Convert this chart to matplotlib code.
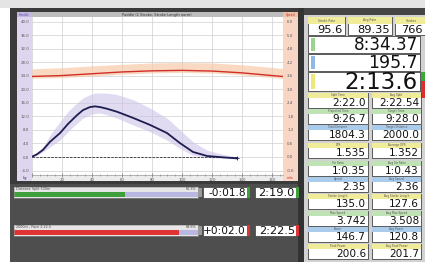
import matplotlib
matplotlib.use("Agg")
import matplotlib.pyplot as plt
from matplotlib.patches import Rectangle
import numpy as np

W, H = 425, 262

# handle force over the stroke (kg): mean curve and spread band
stroke_pos = [0, 3.3, 7.3, 12, 18.7, 24, 30, 34, 38.7, 42, 45.3, 50, 56.7, 67.3, 78.7, 90, 98.7,
              107.3, 116.7, 127.3, 136.7]
force_mean = [0.1, 0.8, 2.1, 4.5, 7.1, 9.8, 12.4, 13.9, 14.8, 15.0, 14.8, 14.3, 13.4, 11.6, 9.5,
              7.1, 4.1, 1.5, 0.3, -0.1, -0.4]
force_hi = [0.3, 1.4, 3.0, 6.5, 10.5, 13.5, 16.0, 17.5, 18.5, 18.9, 19.0, 18.9, 18.5, 17.0, 14.5,
            11.5, 8.0, 4.5, 2.0, 0.8, 0.0]
force_lo = [0.0, 0.5, 1.5, 3.0, 5.0, 7.5, 10.0, 11.5, 12.5, 12.9, 13.0, 12.5, 11.5, 9.5, 7.5,
            5.0, 2.5, 0.5, -0.2, -0.4, -0.6]

# boat speed (m/s) over the stroke
speed_pos = [0, 20, 40, 60, 80, 100, 120, 140, 160, 167]
speed_mean = [3.58, 3.62, 3.70, 3.78, 3.83, 3.85, 3.82, 3.74, 3.62, 3.58]
speed_hi = [3.92, 3.97, 4.05, 4.12, 4.18, 4.20, 4.18, 4.10, 3.98, 3.93]
speed_lo = [3.50, 3.53, 3.60, 3.68, 3.74, 3.76, 3.73, 3.65, 3.53, 3.49]

force_ticks = np.arange(-4, 41, 4)
speed_ticks = np.round(np.arange(-0.6, 6.01, 0.6), 1)
x_ticks = np.arange(0, 161, 20)

# progress bars below the chart
bar_labels = ["Distance Split 500m", "2000m - Pace 2:22.5"]
bar_pct = [60.3, 89.6]
bar_colors = ["#3f9f3a", "#e03434"]
bar_delta = ["-0:01.8", "+0:02.0"]
bar_time = ["2:19.0", "2:22.5"]

# right hand number panel
top_labels = ["Stroke Rate", "Avg Rate", "Strokes"]
top_values = ["95.6", "89.35", "766"]
big_values = ["8:34.37", "195.7", "2:13.6"]
big_tabs = ["#9ad48e", "#8fb8e6", "#eee77a"]
pair_labels = [("Split Time", "Avg Split"), ("Projected Time", "Target Time"),
               ("Total Distance", "Target Distance"), ("DPS", "Average DPS"),
               ("Str Ratio", "Avg Str Ratio"), ("Speed", "Avg Speed"),
               ("Stroke Length", "Avg Stroke Length"), ("Max Speed", "Avg Max Speed"),
               ("Power", "Avg Power"), ("Peak Power", "Avg Peak Power")]
pair_left = ["2:22.0", "9:26.7", "1804.3", "1.535", "1:0.35", "2.35", "135.0", "3.742", "146.7", "200.6"]
pair_right = ["2:22.54", "9:28.0", "2000.0", "1.352", "1:0.43", "2.36", "127.6", "3.508", "120.8", "201.7"]
pair_colors = ["#f0ec9a", "#bfe3b5", "#aacbea"] * 3 + ["#f0ec9a"]
pair_tops = [93, 109, 125, 143, 161, 177, 194, 211, 227, 244]

fig = plt.figure(figsize=(W / 100, H / 100), dpi=100)
fig.patch.set_facecolor("white")
bg = fig.add_axes([0, 0, 1, 1])
bg.set_xlim(0, W)
bg.set_ylim(H, 0)
bg.axis("off")


def rect(x0, y0, x1, y1, color, ec="none", lw=0.0):
    bg.add_patch(Rectangle((x0, y0), x1 - x0, y1 - y0, facecolor=color, edgecolor=ec, lw=lw))


def ax_at(x0, y0, x1, y1):
    return fig.add_axes([x0 / W, 1 - y1 / H, (x1 - x0) / W, (y1 - y0) / H])


# ---- panel frames ----
rect(0, 0, W, 8, "#e4e4e4")
rect(10, 8, 303, 184, "#3b3b3b")
rect(10, 184, 300, H, "#4e4e4e")
rect(298, 8, 304, H, "#333333")
rect(304, 8, W, H, "#d2d2d2")
rect(304, 8, W, 15, "#444444")
rect(17, 12, 32, 181, "#ddd6ee")
rect(17, 12, 32, 17, "#c3b7e0")
rect(283, 12, 298, 181, "#f7d6c6")
rect(283, 12, 298, 17, "#efbfa8")
rect(32, 12, 283, 17, "#bdbdbd")
rect(32, 175, 283, 181, "#ececec")
bg.text(157, 14.6, "Paddle (1 Stroke: Stroke Length norm)", fontsize=2.6, color="#333",
        ha="center", va="center")
bg.text(24.5, 14.6, "Handle", fontsize=2.2, color="#6a4fa8", ha="center", va="center")
bg.text(290.5, 14.6, "Speed", fontsize=2.2, color="#c03020", ha="center", va="center")
bg.text(24.5, 178, "kg", fontsize=2.6, color="#333", ha="center", va="center")
bg.text(290.5, 178, "m/s", fontsize=2.6, color="#c03020", ha="center", va="center")

# ---- stroke chart ----
ax = ax_at(32, 17, 283, 175)
ax.set_facecolor("white")
ax.set_xlim(0, 167.3)
ax.set_ylim(-5.333, 41.48)
ax.set_xticks(x_ticks)
ax.set_xticklabels([""] + [str(v) for v in x_ticks[1:]])
ax.set_xticks(np.arange(0, 167, 5), minor=True)
ax.set_yticks(force_ticks)
ax.set_yticklabels([f"{v:.1f}" for v in force_ticks])
ax.grid(True, color="#cfcfcf", lw=0.5)
ax.set_axisbelow(True)
ax.tick_params(axis="y", labelsize=2.8, labelcolor="#555", length=0, pad=2)
ax.tick_params(axis="x", which="major", labelsize=2.8, labelcolor="#555",
               direction="inout", length=2.5, width=0.4, color="#555", pad=1.2)
ax.tick_params(axis="x", which="minor", direction="inout", length=1.5, width=0.4, color="#777")
for s in ax.spines.values():
    s.set_visible(False)
ax.spines["bottom"].set_visible(True)
ax.spines["bottom"].set_color("#888")
ax.spines["bottom"].set_linewidth(0.4)

ax.fill_between(stroke_pos, force_lo, force_hi, color="#cdc3e8", alpha=0.6, lw=0)
ax.hlines(0, stroke_pos[0], stroke_pos[-1], color="#333", lw=0.6, ls=(0, (3, 1.5)))
ax.plot(stroke_pos, force_mean, color="#1d1d50", lw=1.3, solid_joinstyle="round")
ax.plot(stroke_pos[-1], force_mean[-1], "+", color="#1d1d50", ms=3, mew=0.6)

ax2 = ax.twinx()
ax2.set_ylim(-0.8, 6.222)
ax2.set_yticks(speed_ticks)
ax2.set_yticklabels([f"{v:.1f}" for v in speed_ticks])
ax2.tick_params(axis="y", labelsize=2.8, labelcolor="#555", length=0, pad=3)
for s in ax2.spines.values():
    s.set_visible(False)
ax2.fill_between(speed_pos, speed_lo, speed_hi, color="#f8c9a8", alpha=0.7, lw=0)
ax2.plot(speed_pos, speed_mean, color="#cf2f28", lw=1.0)

bg.text(266, 162.5, "SpeedStroke Prototype", fontsize=2.6, color="#111", ha="right",
        va="center", fontweight="bold")
bg.text(266, 167.5, "www.prograf.net", fontsize=2.6, color="#111", ha="right",
        va="center", fontweight="bold")

# ---- progress bars ----
for i, top in enumerate([187, 225]):
    bax = ax_at(14, top, 198, top + 11)
    bax.set_xlim(0, 100)
    bax.set_ylim(0, 1)
    bax.set_facecolor("#e6e6e6")
    bax.barh(0.32, bar_pct[i], height=0.5, color=bar_colors[i], lw=0)
    bax.barh(0.32, 100 - bar_pct[i], left=bar_pct[i], height=0.5, color="#b7b7e2", lw=0)
    bax.set_xticks([])
    bax.set_yticks([])
    for s in bax.spines.values():
        s.set_color("#999")
        s.set_linewidth(0.4)
    bax.text(1, 0.8, bar_labels[i], fontsize=2.4, color="#444", va="center")
    bax.text(99, 0.8, f"{bar_pct[i]:.1f}%", fontsize=2.4, color="#444", va="center", ha="right")
    rect(198, top + 1, 202, top + 10, "#9a9a9a")
    rect(203, top, 247, top + 11, "white", ec="#222", lw=0.4)
    rect(247, top, 250, top + 11, bar_colors[i])
    bg.text(246, top + 5.8, bar_delta[i], fontsize=7.6, ha="right", va="center", color="#111")
    rect(255, top, 296, top + 11, "white", ec="#222", lw=0.4)
    rect(296, top, 299, top + 11, bar_colors[i])
    bg.text(295, top + 5.8, bar_time[i], fontsize=8.2, ha="right", va="center", color="#111")

# ---- right hand numbers ----
for (x0, x1), lab, val in zip([(308, 345), (348, 392), (395, 428)], top_labels, top_values):
    rect(x0, 17, x1, 35, "white", ec="#222", lw=0.5)
    rect(x0, 17, x1, 24, "#f0ec9a")
    bg.text((x0 + x1) / 2, 20.5, lab, fontsize=2.2, color="#555", ha="center", va="center")
    bg.text(min(x1, W) - 2, 30, val, fontsize=8.2, ha="right", va="center", color="#111")

big_rows = [(36, 53, 12.2), (54, 71, 12.5), (72, 91, 16.5)]
for (y0, y1, fs), val, tab in zip(big_rows, big_values, big_tabs):
    rect(308, y0, 420, y1, "white", ec="#222", lw=0.5)
    rect(311, y0 + 2, 315, y1 - 2, tab)
    bg.text(418, (y0 + y1) / 2 + 0.8, val, fontsize=fs, ha="right", va="center", color="#111")
rect(421, 72, 425, 81, "#3aa83a")
rect(421, 81, 425, 98, "#d83030")

for top, (ll, rl), lv, rv, col in zip(pair_tops, pair_labels, pair_left, pair_right, pair_colors):
    for x0, x1, lab, val in [(308, 368, ll, lv), (372, 421, rl, rv)]:
        rect(x0, top, x1, top + 15, "white", ec="#222", lw=0.5)
        rect(x0, top, x1, top + 4.5, col)
        bg.text((x0 + x1) / 2, top + 2.3, lab, fontsize=2.0, color="#555", ha="center", va="center")
        bg.text(x1 - 2, top + 10, val, fontsize=7.6, ha="right", va="center", color="#111")

fig.savefig("out.png", dpi=100, facecolor=fig.get_facecolor())
